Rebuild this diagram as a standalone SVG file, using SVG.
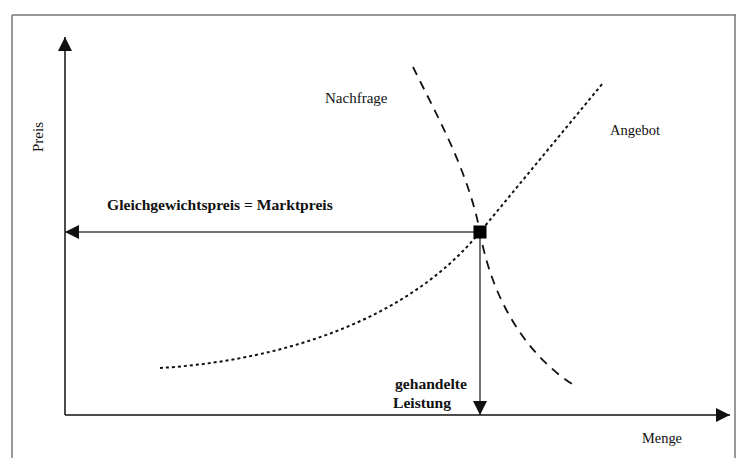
<svg xmlns="http://www.w3.org/2000/svg" width="736" height="458" viewBox="0 0 736 458">
<style>
.frame{stroke:#777;stroke-width:1.5;fill:none}
.axis{stroke:#111;stroke-width:1.5;fill:none}
.guide{stroke:#444;stroke-width:1.5;fill:none}
.supply{stroke:#111;stroke-width:2;fill:none;stroke-dasharray:3 3}
.demand{stroke:#111;stroke-width:1.8;fill:none;stroke-dasharray:9 7}
.lbl{font-family:"Liberation Serif","Times New Roman",serif;fill:#111}
.b{font-weight:bold}
</style>
<defs>
<marker id="ah" viewBox="0 0 14 14" refX="14" refY="7" markerWidth="14" markerHeight="14" markerUnits="userSpaceOnUse" orient="auto">
<path d="M0,0 L14,7 L0,14 Z" fill="#111"/>
</marker>
</defs>
<rect width="736" height="458" fill="#fff"/>
<g id="frame">
<line class="frame" x1="12" y1="15" x2="736" y2="15"/>
<line class="frame" x1="12" y1="15" x2="12" y2="458"/>
<line class="frame" x1="735" y1="15" x2="735" y2="458"/>
</g>
<g id="connectors">
<line id="y-axis" class="axis" x1="65" y1="415" x2="65" y2="37" marker-end="url(#ah)"/>
<line id="x-axis" class="axis" x1="65" y1="415" x2="730" y2="415" marker-end="url(#ah)"/>
<line id="price-arrow" class="guide" x1="480" y1="232" x2="65" y2="232" marker-end="url(#ah)"/>
<line id="quantity-arrow" class="guide" x1="480" y1="232" x2="480" y2="415" marker-end="url(#ah)"/>
<path id="supply-curve" class="supply" d="M160,368 C260,362 400,330 480,232 L603,83"/>
<path id="demand-curve" class="demand" d="M413,67 C435,112 468,170 480,232 C490,290 520,350 572,384"/>
</g>
<g id="equilibrium">
<rect x="473.5" y="225.5" width="13" height="13" fill="#000"/>
</g>
<g id="label-preis">
<text class="lbl" transform="translate(43,152) rotate(-90)" font-size="15">Preis</text>
</g>
<g id="label-nachfrage">
<text class="lbl" x="325" y="103" font-size="15">Nachfrage</text>
</g>
<g id="label-angebot">
<text class="lbl" x="610" y="135" font-size="14.5">Angebot</text>
</g>
<g id="label-gleichgewicht">
<text class="lbl b" x="107" y="210" font-size="15.6">Gleichgewichtspreis = Marktpreis</text>
</g>
<g id="label-leistung">
<text class="lbl b" x="395" y="389" font-size="15.6">gehandelte</text>
<text class="lbl b" x="393" y="408" font-size="15.6">Leistung</text>
</g>
<g id="label-menge">
<text class="lbl" x="642" y="443" font-size="14.4">Menge</text>
</g>
</svg>
